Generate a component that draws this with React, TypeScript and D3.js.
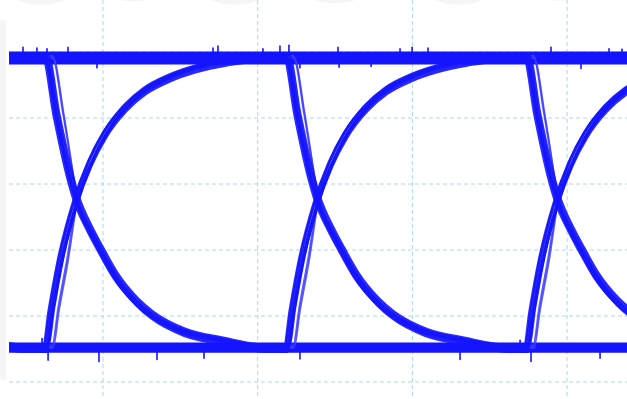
import React from 'react';
import * as d3 from 'd3';

const W = 627;
const H = 399;

// axes (time in ps, voltage in mV)
const gridTimes = [0, 100, 200, 300, 400];
const gridVolts = [0, 100, 200, 300, 400, 500, 600];

// logic levels
const highLevel = 491;
const lowLevel = 52;

// transition start times (ps)
const transitionStarts = [-93.3, 62.5, 218.3, 373.4];
const unitInterval = 155.5;

// rising edge shape: time since start (ps) -> fraction of swing
const riseT = [0, 3.9, 9.7, 19.4, 29.1, 38.8, 51.7, 64.6, 80.8, 97.0, 116.4, 135.7];
const riseF = [0, 0.13, 0.3, 0.5, 0.64, 0.74, 0.83, 0.89, 0.935, 0.965, 0.988, 1.0];

// falling edge shape
const fallT = [0, 7.1, 16.2, 19.4, 29.1, 35.6, 45.2, 58.2, 67.9, 89.2, 113.1, 142.2];
const fallF = [0, 0.2, 0.42, 0.48, 0.6, 0.665, 0.755, 0.84, 0.885, 0.945, 0.975, 1.0];

// trace jitter (dt ps, dv mV)
const primaryJitter = [[-1.4, 0], [-0.5, 3], [0.4, -3], [1.3, 0], [0.8, -6], [2.0, 4]];
const secondaryJitter = [[5.2, 0], [4.6, 3]];

// level band offsets (mV)
const highBand = [-7.5, -4, -1, 2, 5, 7.5];
const lowBand = [-5.5, -2.5, 0, 2.5, 5.5];

// noise spikes on the levels: [time ps, peak mV]
const highSpikes = [
  [48.3, 507], [57.3, 506], [63.8, 505], [77.4, 507], [96.1, 476],
  [171.1, 506], [174.3, 509], [203.4, 505], [214.4, 509], [220.2, 510],
  [227.3, 476], [251.9, 507], [252.6, 477], [273.3, 478], [292.0, 505],
  [299.8, 507], [310.1, 506], [389.6, 507], [409.0, 475], [427.1, 505],
  [435.5, 504],
];
const lowSpikes = [
  [60.6, 66], [64.5, 33], [97.4, 31], [134.9, 34], [165.3, 36],
  [227.3, 35], [330.8, 34], [369.6, 63], [376.7, 31], [421.3, 36],
];

// faint background blotches (time ps, mV)
const blotches = [
  [60, 590], [120, 595], [185, 590], [250, 592], [330, 590], [395, 596],
];

export default function App() {
  const x = d3.scaleLinear().domain([0, 400]).range([-51.7, 567.1]);
  const y = d3.scaleLinear().domain([0, 600]).range([382, -14]);
  const line = d3
    .line<[number, number]>()
    .x((d) => x(d[0]))
    .y((d) => y(d[1]))
    .curve(d3.curveMonotoneX);

  const swing = highLevel - lowLevel;

  const edgePath = (s: number, rising: boolean, dt: number, dv: number, taper: boolean) => {
    const T = rising ? riseT : fallT;
    const F = rising ? riseF : fallF;
    const pts: [number, number][] = T.map((t, i) => {
      const k = taper ? Math.min(1, Math.max(0.25, (0.52 - F[i]) / 0.2)) : 1;
      return [
        s + t + dt * k,
        rising ? lowLevel + F[i] * swing + dv : highLevel - F[i] * swing + dv,
      ];
    });
    pts.unshift([s + dt - 3, rising ? lowLevel + dv : highLevel + dv]);
    pts.push([s + unitInterval + dt, rising ? highLevel + dv : lowLevel + dv]);
    return line(pts) || '';
  };

  const blue = '#1414ff';
  const midBlue = '#3d3dff';
  const gridColor = '#a9dbe8';

  return (
    <svg
      width={W}
      height={H}
      style={{ position: 'fixed', left: 0, top: 0, background: '#ffffff' }}
    >
      <defs>
        <clipPath id="plot">
          <rect x={9} y={0} width={W - 9} height={H} />
        </clipPath>
      </defs>
      <rect x={0} y={0} width={W} height={H} fill="#ffffff" />
      {/* faint watermark */}
      <g fill="#f5f5f5">
        {blotches.map(([t, v], i) => (
          <ellipse key={'b' + i} cx={x(t)} cy={y(v)} rx={30} ry={12} />
        ))}
        <rect x={0} y={20} width={6} height={360} rx={3} />
      </g>
      {/* grid */}
      <g stroke={gridColor} strokeWidth={1} strokeDasharray="4,3">
        {gridVolts.map((v) => (
          <line key={'h' + v} x1={9} x2={W} y1={y(v)} y2={y(v)} />
        ))}
        {gridTimes.map((t) => (
          <line key={'v' + t} x1={x(t)} x2={x(t)} y1={0} y2={H} />
        ))}
      </g>
      <g clipPath="url(#plot)" fill="none" strokeLinecap="round" strokeLinejoin="round">
        {/* levels */}
        {highBand.map((dv, i) => (
          <line key={'hb' + i} x1={x(0)} x2={x(440)} y1={y(highLevel + dv)} y2={y(highLevel + dv)} stroke={blue} strokeWidth={3} />
        ))}
        {lowBand.map((dv, i) => (
          <line key={'lb' + i} x1={x(0)} x2={x(440)} y1={y(lowLevel + dv)} y2={y(lowLevel + dv)} stroke={blue} strokeWidth={3} />
        ))}
        {highSpikes.map(([t, v], i) => (
          <line key={'hs' + i} x1={x(t)} x2={x(t)} y1={y(highLevel)} y2={y(v)} stroke={blue} strokeWidth={1.6} />
        ))}
        {lowSpikes.map(([t, v], i) => (
          <line key={'ls' + i} x1={x(t)} x2={x(t)} y1={y(lowLevel)} y2={y(v)} stroke={blue} strokeWidth={1.6} />
        ))}
        {/* secondary traces */}
        {transitionStarts.map((s) =>
          secondaryJitter.map(([dt, dv], j) => (
            <g key={'s' + s + '_' + j}>
              <path d={edgePath(s, true, dt, dv, true)} stroke={midBlue} strokeWidth={1.8} opacity={0.85} />
              <path d={edgePath(s, false, dt, dv, true)} stroke={midBlue} strokeWidth={1.8} opacity={0.85} />
            </g>
          ))
        )}
        {/* primary traces */}
        {transitionStarts.map((s) =>
          primaryJitter.map(([dt, dv], j) => (
            <g key={'p' + s + '_' + j}>
              <path d={edgePath(s, true, dt, dv, false)} stroke={blue} strokeWidth={2.6} opacity={0.9} />
              <path d={edgePath(s, false, dt, dv, false)} stroke={blue} strokeWidth={2.6} opacity={0.9} />
            </g>
          ))
        )}
      </g>
    </svg>
  );
}
